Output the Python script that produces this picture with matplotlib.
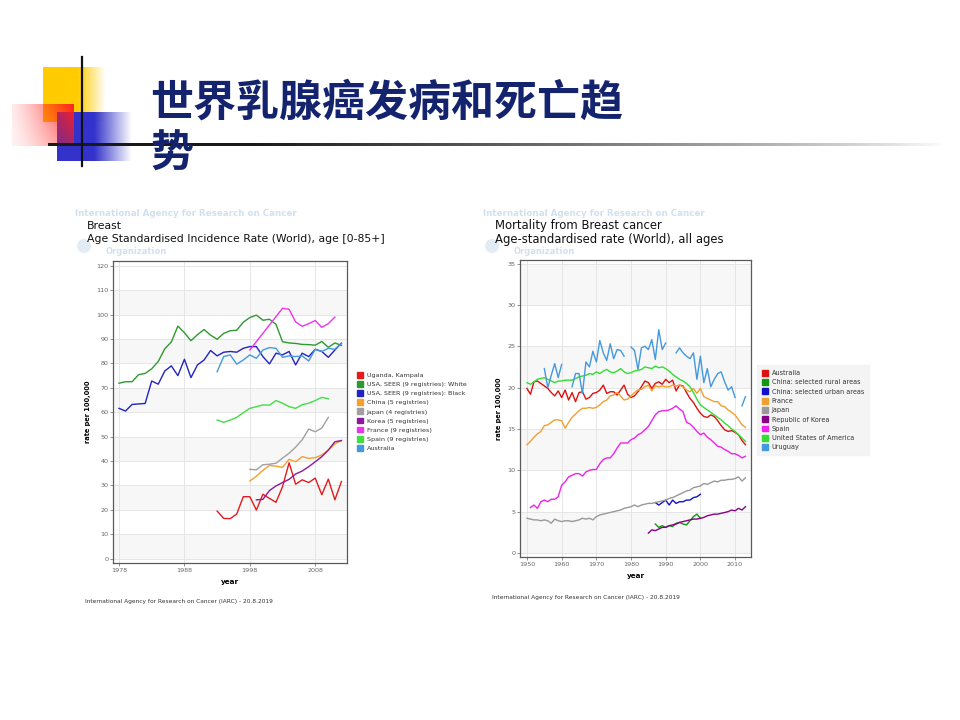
import matplotlib
matplotlib.use('Agg')
import matplotlib.pyplot as plt
import numpy as np
from matplotlib.patches import Patch, Circle

plt.rcParams['font.family'] = ['DejaVu Sans']

# ---------------- incidence (left chart) ----------------
inc_years = np.arange(1978, 2013)
usa_white = [71.9, 72.5, 72.5, 75.4, 75.9, 77.8, 80.8, 86.0, 88.8, 95.3, 92.6, 89.3, 91.8, 93.9, 91.6,
             89.9, 92.3, 93.4, 93.6, 96.9, 98.8, 99.8, 97.7, 98.1, 96.0, 88.9, 88.4, 88.2, 87.8, 87.7,
             87.5, 89.0, 86.6, 88.4, 87.4]
usa_black = [61.6, 60.5, 63.2, 63.4, 63.6, 72.8, 71.5, 76.9, 79.0, 75.0, 81.7, 74.2, 79.4, 81.4, 85.3,
             83.1, 84.6, 84.9, 84.6, 86.2, 86.9, 86.9, 82.8, 79.8, 84.2, 83.5, 84.9, 79.4, 84.2, 82.8,
             85.8, 84.9, 82.5, 85.5, 88.3]
uganda_years = np.arange(1993, 2013)
uganda = [19.5, 16.5, 16.4, 18.3, 25.4, 25.4, 19.9, 26.4, 24.7, 23.1, 29.5, 39.3, 30.5, 32.3, 31.2,
          33.0, 26.2, 32.6, 24.1, 31.6]
china_inc_years = np.arange(1998, 2013)
china_inc = [31.8, 33.8, 36.2, 38.2, 37.9, 37.4, 40.7, 39.7, 41.8, 41.1, 41.4, 42.5, 44.5, 47.0, 48.4]
japan_inc_years = np.arange(1998, 2011)
japan_inc = [36.6, 36.4, 38.5, 38.7, 39.1, 41.2, 43.2, 45.7, 48.7, 53.1, 52.0, 53.5, 57.9]
korea_inc_years = np.arange(1999, 2013)
korea_inc = [24.1, 24.3, 27.9, 29.8, 31.2, 32.5, 34.7, 35.9, 37.7, 39.7, 41.8, 44.5, 47.9, 48.4]
france_inc_years = [1998, 2003, 2004, 2005, 2006, 2007, 2008, 2009, 2010, 2011]
france_inc = [85.5, 102.6, 102.2, 97.0, 95.2, 96.3, 97.6, 94.8, 96.3, 99.0]
spain_inc_years = np.arange(1993, 2011)
spain_inc = [56.8, 55.9, 56.8, 57.9, 59.8, 61.6, 62.3, 63.0, 62.9, 64.8, 63.7, 62.3, 61.6, 63.1, 63.7,
             64.8, 66.1, 65.5]
australia_inc_years = np.arange(1993, 2013)
australia_inc = [76.6, 82.8, 83.5, 79.7, 81.4, 83.5, 82.1, 85.5, 86.5, 86.2, 82.5, 83.1, 82.8, 83.1,
                 81.0, 85.8, 84.9, 86.2, 85.8, 88.3]

inc_labels = ['Uganda, Kampala', 'USA, SEER (9 registries): White', 'USA, SEER (9 registries): Black',
              'China (5 registries)', 'Japan (4 registries)', 'Korea (5 registries)',
              'France (9 registries)', 'Spain (9 registries)', 'Australia']
inc_colors = ['#e41a1c', '#2e9a2e', '#2323c0', '#f5a030', '#a0a0a0', '#8b1a9b', '#ee33ee', '#44dd44',
              '#4499e0']

# ---------------- mortality (right chart) ----------------
mort_years = np.arange(1950, 2014)
australia_mort = [19.9, 19.2, 20.7, 20.8, 20.5, 20.2, 19.9, 19.4, 19.0, 19.6,
                  18.8, 19.7, 18.5, 19.4, 18.3, 19.4, 19.5, 18.6, 18.8, 19.3,
                  19.4, 19.7, 20.3, 19.3, 19.5, 19.5, 19.1, 19.7, 20.3, 19.2,
                  18.8, 19.0, 19.5, 20.1, 20.8, 20.6, 19.9, 20.5, 20.7, 20.4,
                  21.0, 20.6, 20.9, 19.6, 20.3, 20.2, 19.4, 18.7, 18.2, 17.5,
                  16.9, 16.5, 16.4, 16.7, 16.5, 16.0, 15.4, 14.9, 14.7, 14.8,
                  14.6, 14.3, 13.6, 13.1]
france_mort = [13.1, 13.5, 14.0, 14.4, 14.7, 15.4, 15.5, 15.8, 16.1, 16.1,
               16.0, 15.1, 15.8, 16.4, 16.8, 17.2, 17.5, 17.5, 17.6, 17.5,
               17.6, 17.9, 18.3, 18.5, 19.0, 19.1, 19.4, 19.0, 18.5, 18.6,
               19.0, 19.4, 19.7, 19.8, 20.1, 20.3, 19.6, 20.2, 20.1, 20.2,
               20.1, 20.1, 20.3, 20.2, 20.3, 20.1, 19.7, 19.5, 19.9, 19.3,
               19.9, 18.9, 18.7, 18.5, 18.3, 18.3, 17.8, 17.7, 17.3, 17.0,
               16.7, 16.1, 15.5, 15.2]
usa_mort = [20.6, 20.4, 20.7, 21.0, 21.1, 21.2, 21.0, 20.8, 20.6, 20.8,
            20.8, 20.9, 20.9, 20.9, 21.1, 21.3, 21.4, 21.5, 21.7, 21.6,
            21.9, 21.7, 22.0, 22.2, 21.9, 21.8, 22.0, 22.3, 21.9, 21.7,
            21.8, 22.0, 22.1, 22.2, 22.5, 22.4, 22.3, 22.6, 22.4, 22.5,
            22.3, 22.0, 21.6, 21.3, 21.0, 20.8, 20.5, 20.1, 19.4, 18.6,
            17.9, 17.6, 17.3, 17.0, 16.7, 16.4, 16.1, 15.7, 15.4, 15.0,
            14.7, 14.3, 13.9, 13.5]
japan_mort = [4.2, 4.1, 4.0, 4.0, 3.9, 4.0, 3.9, 3.6, 4.1, 3.9,
              3.8, 3.9, 3.9, 3.8, 3.9, 4.0, 4.2, 4.1, 4.2, 4.0,
              4.4, 4.6, 4.7, 4.8, 4.9, 5.0, 5.1, 5.2, 5.4, 5.5,
              5.6, 5.8, 5.6, 5.8, 5.9, 6.0, 6.0, 6.1, 6.2, 6.3,
              6.4, 6.6, 6.7, 6.9, 7.1, 7.3, 7.5, 7.6, 7.9, 8.0,
              8.1, 8.4, 8.3, 8.5, 8.7, 8.6, 8.8, 8.8, 8.9, 8.9,
              9.0, 9.2, 8.7, 9.1]
spain_mort_years = np.arange(1951, 2014)
spain_mort = [5.5, 5.8, 5.4, 6.2, 6.4, 6.2, 6.5, 6.5, 6.8,
              8.2, 8.6, 9.2, 9.4, 9.6, 9.6, 9.3, 9.8, 10.0, 10.1,
              10.1, 10.8, 11.3, 11.5, 11.5, 12.0, 12.7, 13.3, 13.3, 13.3,
              13.7, 13.9, 14.3, 14.5, 14.9, 15.3, 16.0, 16.7, 17.1, 17.2,
              17.2, 17.3, 17.5, 17.8, 17.4, 17.1, 15.8, 15.6, 15.2, 14.7,
              14.3, 14.5, 14.0, 13.7, 13.3, 12.9, 12.8, 12.5, 12.3, 12.0,
              12.0, 11.8, 11.5, 11.7]
korea_mort_years = np.arange(1985, 2014)
korea_mort = [2.4, 2.8, 2.7, 2.9, 3.1, 3.1, 3.3, 3.4, 3.5, 3.7, 3.8, 3.9, 4.0, 4.1, 4.1,
              4.2, 4.3, 4.5, 4.6, 4.7, 4.7, 4.8, 4.9, 5.0, 5.2, 5.1, 5.4, 5.2, 5.6]
china_mort_years = np.arange(1987, 2001)
china_urban = [6.1, 5.8, 6.1, 6.4, 5.8, 6.4, 6.0, 6.2, 6.2, 6.4, 6.4, 6.7, 6.8, 7.1]
china_rural = [3.5, 3.1, 3.3, 3.1, 3.3, 3.2, 3.6, 3.7, 3.5, 3.4, 3.9, 4.4, 4.7, 4.2]
uruguay_years = np.arange(1955, 2014)
nan = np.nan
uruguay = [22.3, 20.0, 21.5, 22.9, 21.2, 22.8, nan, nan,
           20.1, 21.7, 21.7, 19.3, 23.1, 22.5, 24.4, 23.1, 25.7, 24.2, 23.3, 25.3, 23.5, 24.6, 24.5, 23.8,
           nan,
           24.9, 24.5, 22.2, 24.8, 25.0, 24.6, 25.8, 23.4, 27.0, 24.6, 25.4, nan, nan,
           24.2, 24.8, 24.2, 23.8, 23.5, 24.2, 21.0, 23.8, 20.6, 22.3, 20.1, 21.0, 21.7, 21.9, 20.7,
           19.7, 20.1, 18.8, nan, 17.8, 18.9]

mort_labels = ['Australia', 'China: selected rural areas', 'China: selected urban areas', 'France',
               'Japan', 'Republic of Korea', 'Spain', 'United States of America', 'Uruguay']
mort_colors = ['#dd1111', '#119911', '#1111cc', '#f0a030', '#999999', '#880088', '#ee22ee', '#33dd33',
               '#4499dd']

W, H = 960, 720


def px_box(l, t, r, b):
    return [l / W, 1 - b / H, (r - l) / W, (b - t) / H]


def gradient(ax, x0, x1, y0, y1, rgb, alpha):
    img = np.zeros(alpha.shape + (4,))
    img[..., :3] = rgb
    img[..., 3] = alpha
    ax.imshow(img, extent=[x0, x1, y1, y0], aspect='auto', interpolation='bilinear', zorder=1)


fig = plt.figure(figsize=(9.6, 7.2), dpi=100)
bg = fig.add_axes([0, 0, 1, 1])
bg.axis('off')

# slide decoration
n = 100
xr = np.linspace(0, 1, n)[None, :].repeat(n, 0)
yr = np.linspace(0, 1, n)[:, None].repeat(n, 1)
gradient(bg, 43, 106, 67, 122, (1.0, 0.8, 0.0), np.clip((1 - xr) / 0.45, 0, 1))
gradient(bg, 57, 132, 112, 161, (0.2, 0.2, 0.8), np.clip((1 - xr) / 0.5, 0, 1))
gradient(bg, 12, 74, 104, 146, (1.0, 0.12, 0.12), np.clip(0.1 + 0.9 * xr ** 1.3, 0, 1) * (1 - 0.45 * yr))
line_a = np.linspace(1, 0, 400)[None, :].repeat(3, 0)
hl = np.zeros((3, 400, 4))
hl[..., :3] = (0.1, 0.1, 0.1)
hl[..., 3] = np.clip(line_a * 1.3, 0, 1) ** 0.8
bg.imshow(hl, extent=[48, 945, 146.5, 143.5], aspect='auto', zorder=2)
bg.plot([82, 82], [57, 166], color='#111111', lw=1.6, zorder=3)

title_font = ['Noto Sans CJK SC', 'DejaVu Sans']
bg.text(150, 103, '世界乳腺癌发病和死亡趋', fontsize=31, fontweight='bold', color='#14236e',
        va='center', ha='left', family=title_font, zorder=4)
bg.text(150, 154, '势', fontsize=31, fontweight='bold', color='#14236e',
        va='center', ha='left', family=title_font, zorder=4)

# faint IARC watermarks behind the chart titles
for x0 in (75, 483):
    bg.text(x0, 213, 'International Agency for Research on Cancer', fontsize=6.3, fontweight='bold',
            color='#d3e0ef', va='center', zorder=1)
    bg.text(x0 + 31, 252, 'Organization', fontsize=6.0, fontweight='bold', color='#d3e0ef',
            va='center', zorder=1)
    bg.add_patch(Circle((x0 + 9, 246), 7, facecolor='#e3ebf5', edgecolor='none', zorder=1))

bg.text(87, 226, 'Breast', fontsize=7.8, va='center', color='#111111', zorder=4)
bg.text(87, 239, 'Age Standardised Incidence Rate (World), age [0-85+]', fontsize=7.8, va='center',
        color='#111111', zorder=4)
bg.text(495, 226, 'Mortality from Breast cancer', fontsize=8.4, va='center', color='#111111', zorder=4)
bg.text(495, 240, 'Age-standardised rate (World), all ages', fontsize=8.4, va='center', color='#111111',
        zorder=4)
bg.text(85, 601, 'International Agency for Research on Cancer (IARC) - 20.8.2019', fontsize=4.2,
        va='center', color='#333333')
bg.text(492, 597, 'International Agency for Research on Cancer (IARC) - 20.8.2019', fontsize=4.2,
        va='center', color='#333333')
bg.set_xlim(0, W)
bg.set_ylim(H, 0)


def style_axes(ax, band, ymax):
    ax.set_facecolor('white')
    for lo in np.arange(0, ymax, 2 * band):
        ax.axhspan(lo, lo + band, color='#f7f7f7', zorder=0, lw=0)
    ax.grid(True, color='#e2e2e2', lw=0.6, zorder=0.5)
    ax.set_axisbelow(True)
    for s in ax.spines.values():
        s.set_color('#5a5a5a')
        s.set_linewidth(0.9)
    ax.tick_params(labelsize=4.6, colors='#666666', length=2, width=0.5, pad=1.5)


# left chart
ax1 = fig.add_axes(px_box(113.3, 260.7, 347.3, 563.3))
style_axes(ax1, 10, 120)
ax1.plot(uganda_years, uganda, color=inc_colors[0], lw=1.0)
ax1.plot(inc_years, usa_white, color=inc_colors[1], lw=1.0)
ax1.plot(inc_years, usa_black, color=inc_colors[2], lw=1.0)
ax1.plot(china_inc_years, china_inc, color=inc_colors[3], lw=1.0)
ax1.plot(japan_inc_years, japan_inc, color=inc_colors[4], lw=1.0)
ax1.plot(korea_inc_years, korea_inc, color=inc_colors[5], lw=1.0)
ax1.plot(france_inc_years, france_inc, color=inc_colors[6], lw=1.0)
ax1.plot(spain_inc_years, spain_inc, color=inc_colors[7], lw=1.0)
ax1.plot(australia_inc_years, australia_inc, color=inc_colors[8], lw=1.0)
ax1.set_xlim(1977.13, 2012.9)
ax1.set_ylim(-1.9, 122.1)
ax1.set_xticks([1978, 1988, 1998, 2008])
ax1.set_yticks(np.arange(0, 121, 10))
ax1.set_xlabel('year', fontsize=5.2, fontweight='bold', labelpad=4)
ax1.set_ylabel('rate per 100,000', fontsize=4.8, fontweight='bold', labelpad=4)
ax1.legend([Patch(color=c) for c in inc_colors], inc_labels, loc='upper left',
           bbox_to_anchor=(357 / W, 1 - 372 / H), bbox_transform=fig.transFigure, frameon=False,
           fontsize=4.6, handlelength=1.0, handleheight=1.0, handletextpad=0.5, labelspacing=0.48,
           borderpad=0, borderaxespad=0, labelcolor='#333333')

# right chart
ax2 = fig.add_axes(px_box(520.3, 260, 751, 557.3))
style_axes(ax2, 5, 35)
ax2.plot(mort_years, australia_mort, color=mort_colors[0], lw=1.0)
ax2.plot(china_mort_years, china_rural, color=mort_colors[1], lw=1.0)
ax2.plot(china_mort_years, china_urban, color=mort_colors[2], lw=1.0)
ax2.plot(mort_years, france_mort, color=mort_colors[3], lw=1.0)
ax2.plot(mort_years, japan_mort, color=mort_colors[4], lw=1.0)
ax2.plot(korea_mort_years, korea_mort, color=mort_colors[5], lw=1.0)
ax2.plot(spain_mort_years, spain_mort, color=mort_colors[6], lw=1.0)
ax2.plot(mort_years, usa_mort, color=mort_colors[7], lw=1.0)
ax2.plot(uruguay_years, uruguay, color=mort_colors[8], lw=1.0)
ax2.set_xlim(1948.07, 2014.6)
ax2.set_ylim(-0.52, 35.43)
ax2.set_xticks(np.arange(1950, 2011, 10))
ax2.set_yticks(np.arange(0, 36, 5))
ax2.set_xlabel('year', fontsize=5.2, fontweight='bold', labelpad=4)
ax2.set_ylabel('rate per 100,000', fontsize=4.8, fontweight='bold', labelpad=4)
leg2 = ax2.legend([Patch(color=c) for c in mort_colors], mort_labels, loc='upper left',
                  bbox_to_anchor=(757 / W, 1 - 365 / H), bbox_transform=fig.transFigure, frameon=True,
                  fontsize=4.7, handlelength=1.0, handleheight=1.0, handletextpad=0.5,
                  labelspacing=0.48, borderpad=0.75, borderaxespad=0, fancybox=False,
                  labelcolor='#333333')
leg2.get_frame().set_facecolor('#f2f2f2')
leg2.get_frame().set_edgecolor('#f2f2f2')

fig.savefig('out.png', dpi=100)
